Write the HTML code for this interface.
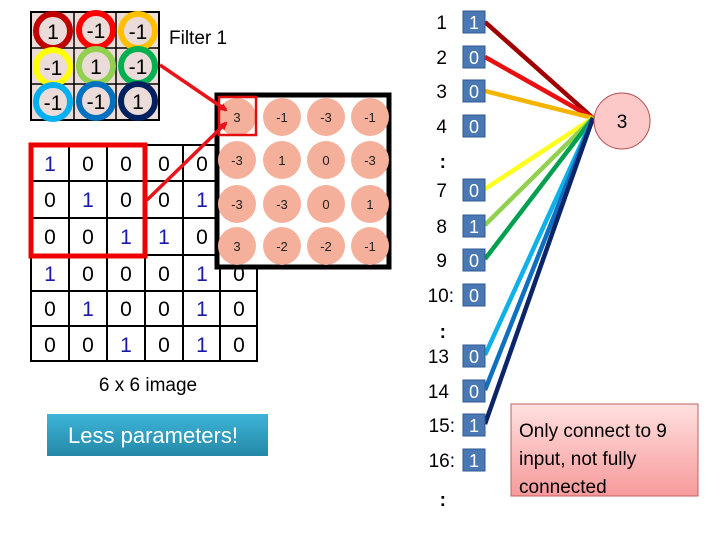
<!DOCTYPE html>
<html><head><meta charset="utf-8"><style>
body{margin:0;background:#fff;width:720px;height:540px;overflow:hidden}
svg{display:block;font-family:"Liberation Sans",sans-serif}
</style></head><body>
<svg width="720" height="540" viewBox="0 0 720 540" xmlns="http://www.w3.org/2000/svg">
<defs>
<marker id="ar" markerWidth="8" markerHeight="8" refX="6" refY="4" orient="auto" markerUnits="userSpaceOnUse"><path d="M0,0 L8,4 L0,8 z" fill="#e8141a"/></marker>
<linearGradient id="nb" x1="0" y1="0" x2="0" y2="1"><stop offset="0" stop-color="#ffe0e0"/><stop offset="1" stop-color="#f79a9a"/></linearGradient>
<linearGradient id="lp" x1="0" y1="0" x2="0" y2="1"><stop offset="0" stop-color="#3db4d8"/><stop offset="1" stop-color="#2588a8"/></linearGradient>
</defs>
<rect x="31" y="12" width="128" height="108" fill="#ecdcd9" stroke="#000" stroke-width="2"/>
<g stroke="#000" stroke-width="1.5"><line x1="74" y1="12" x2="74" y2="120"/><line x1="116" y1="12" x2="116" y2="120"/><line x1="31" y1="48" x2="159" y2="48"/><line x1="31" y1="84" x2="159" y2="84"/></g>
<g fill="none" stroke-width="6">
<circle cx="53" cy="31" r="17" stroke="#c00000"/><circle cx="96" cy="30" r="17" stroke="#ff0000"/><circle cx="138" cy="31" r="17" stroke="#ffc000"/>
<circle cx="53" cy="67" r="17" stroke="#ffff00"/><circle cx="96" cy="66" r="17" stroke="#92d050"/><circle cx="138" cy="66" r="17" stroke="#00b050"/>
<circle cx="53" cy="102" r="17" stroke="#00b0f0"/><circle cx="96" cy="101" r="17" stroke="#0070c0"/><circle cx="138" cy="101" r="17" stroke="#002060"/>
</g>
<g font-size="21" text-anchor="middle" fill="#000">
<text x="53" y="39">1</text><text x="96" y="38">-1</text><text x="138" y="39">-1</text>
<text x="53" y="75">-1</text><text x="96" y="74">1</text><text x="138" y="74">-1</text>
<text x="53" y="110">-1</text><text x="96" y="109">-1</text><text x="138" y="109">1</text>
</g>
<text x="169" y="44" font-size="19">Filter 1</text>
<g stroke="#000" stroke-width="2" fill="none">
<rect x="31" y="145" width="226" height="216"/>
<line x1="69" y1="145" x2="69" y2="361"/><line x1="107" y1="145" x2="107" y2="361"/><line x1="145" y1="145" x2="145" y2="361"/><line x1="183" y1="145" x2="183" y2="361"/><line x1="220" y1="145" x2="220" y2="361"/>
<line x1="31" y1="181" x2="257" y2="181"/><line x1="31" y1="218" x2="257" y2="218"/><line x1="31" y1="255" x2="257" y2="255"/><line x1="31" y1="291" x2="257" y2="291"/><line x1="31" y1="326" x2="257" y2="326"/>
</g>
<g font-size="21" text-anchor="middle">
<g fill="#000">
<text x="88" y="171">0</text><text x="126" y="171">0</text><text x="164" y="171">0</text><text x="202" y="171">0</text><text x="239" y="171">0</text>
<text x="50" y="207">0</text><text x="126" y="207">0</text><text x="164" y="207">0</text><text x="239" y="207">0</text>
<text x="50" y="244">0</text><text x="88" y="244">0</text><text x="202" y="244">0</text><text x="239" y="244">0</text>
<text x="88" y="281">0</text><text x="126" y="281">0</text><text x="164" y="281">0</text><text x="239" y="281">0</text>
<text x="50" y="316">0</text><text x="126" y="316">0</text><text x="164" y="316">0</text><text x="239" y="316">0</text>
<text x="50" y="352">0</text><text x="88" y="352">0</text><text x="164" y="352">0</text><text x="239" y="352">0</text>
</g>
<g fill="#1a1aa8">
<text x="50" y="171">1</text><text x="88" y="207">1</text><text x="202" y="207">1</text>
<text x="126" y="244">1</text><text x="164" y="244">1</text>
<text x="50" y="281">1</text><text x="202" y="281">1</text>
<text x="88" y="316">1</text><text x="202" y="316">1</text>
<text x="126" y="352">1</text><text x="202" y="352">1</text>
</g></g>
<rect x="31" y="145" width="114" height="111" fill="none" stroke="#ee0000" stroke-width="5"/>
<rect x="217" y="95" width="172" height="172" fill="#fff" stroke="#000" stroke-width="5"/>
<g fill="#f4b09a">
<circle cx="237" cy="117" r="19"/><circle cx="282" cy="117" r="19"/><circle cx="326" cy="117" r="19"/><circle cx="370" cy="117" r="19"/>
<circle cx="237" cy="160" r="19"/><circle cx="282" cy="160" r="19"/><circle cx="326" cy="160" r="19"/><circle cx="370" cy="160" r="19"/>
<circle cx="237" cy="204" r="19"/><circle cx="282" cy="204" r="19"/><circle cx="326" cy="204" r="19"/><circle cx="370" cy="204" r="19"/>
<circle cx="237" cy="246" r="19"/><circle cx="282" cy="246" r="19"/><circle cx="326" cy="246" r="19"/><circle cx="370" cy="246" r="19"/>
</g>
<g font-size="13" text-anchor="middle" fill="#222">
<text x="237" y="122">3</text><text x="282" y="122">-1</text><text x="326" y="122">-3</text><text x="370" y="122">-1</text>
<text x="237" y="165">-3</text><text x="282" y="165">1</text><text x="326" y="165">0</text><text x="370" y="165">-3</text>
<text x="237" y="209">-3</text><text x="282" y="209">-3</text><text x="326" y="209">0</text><text x="370" y="209">1</text>
<text x="237" y="251">3</text><text x="282" y="251">-2</text><text x="326" y="251">-2</text><text x="370" y="251">-1</text>
</g>
<rect x="219" y="97" width="37" height="38" fill="none" stroke="#e01010" stroke-width="2.5"/>
<line x1="160" y1="65" x2="226" y2="110" stroke="#e8141a" stroke-width="3.5" marker-end="url(#ar)"/>
<line x1="147" y1="200" x2="226" y2="123" stroke="#e8141a" stroke-width="3.5" marker-end="url(#ar)"/>
<text x="148" y="391" font-size="19" text-anchor="middle">6 x 6 image</text>
<rect x="47" y="414" width="221" height="42" fill="url(#lp)"/>
<text x="153" y="443" font-size="22" fill="#fff" text-anchor="middle">Less parameters!</text>
<g stroke-width="4.5" fill="none">
<line x1="485" y1="22" x2="593" y2="118" stroke="#a00000"/>
<line x1="485" y1="57" x2="593" y2="118" stroke="#e81010"/>
<line x1="485" y1="91" x2="593" y2="118" stroke="#f4b400"/>
<line x1="485" y1="189" x2="593" y2="118" stroke="#ffff20"/>
<line x1="485" y1="225" x2="593" y2="118" stroke="#92d050"/>
<line x1="485" y1="259" x2="593" y2="118" stroke="#00a050"/>
<line x1="485" y1="355" x2="593" y2="118" stroke="#10b0e8"/>
<line x1="485" y1="390" x2="593" y2="118" stroke="#1070c0"/>
<line x1="485" y1="424" x2="593" y2="118" stroke="#0c2468"/>
</g>
<g fill="#4a78b4" stroke="#2f5a90" stroke-width="1">
<rect x="463" y="11" width="22" height="22"/><rect x="463" y="46" width="22" height="22"/><rect x="463" y="80" width="22" height="22"/><rect x="463" y="115" width="22" height="22"/>
<rect x="463" y="179" width="22" height="22"/><rect x="463" y="215" width="22" height="22"/><rect x="463" y="249" width="22" height="22"/><rect x="463" y="284" width="22" height="22"/>
<rect x="463" y="345" width="22" height="22"/><rect x="463" y="380" width="22" height="22"/><rect x="463" y="414" width="22" height="22"/><rect x="463" y="449" width="22" height="22"/>
</g>
<g font-size="18" fill="#fff" text-anchor="middle">
<text x="474" y="29">1</text><text x="474" y="64">0</text><text x="474" y="98">0</text><text x="474" y="133">0</text>
<text x="474" y="197">0</text><text x="474" y="233">1</text><text x="474" y="267">0</text><text x="474" y="302">0</text>
<text x="474" y="363">0</text><text x="474" y="398">0</text><text x="474" y="432">1</text><text x="474" y="467">1</text>
</g>
<g font-size="19" fill="#000" text-anchor="end">
<text x="447" y="29">1</text><text x="447" y="64">2</text><text x="447" y="98">3</text><text x="447" y="133">4</text>
<text x="446" y="168" font-weight="bold">:</text>
<text x="447" y="197">7</text><text x="447" y="233">8</text><text x="447" y="267">9</text><text x="454" y="302">10:</text>
<text x="446" y="338" font-weight="bold">:</text>
<text x="449" y="363">13</text><text x="449" y="398">14</text><text x="455" y="432">15:</text><text x="455" y="467">16:</text>
<text x="446" y="506" font-weight="bold">:</text>
</g>
<circle cx="622" cy="121" r="28" fill="#fcc8c8" stroke="#b05050" stroke-width="1"/>
<text x="622" y="128" font-size="19" text-anchor="middle">3</text>
<rect x="511" y="404" width="187" height="92" fill="url(#nb)" stroke="#c06060" stroke-width="1"/>
<g font-size="19" fill="#000"><text x="519" y="437">Only connect to 9</text><text x="519" y="465">input, not fully</text><text x="519" y="493">connected</text></g>
</svg>
</body></html>
